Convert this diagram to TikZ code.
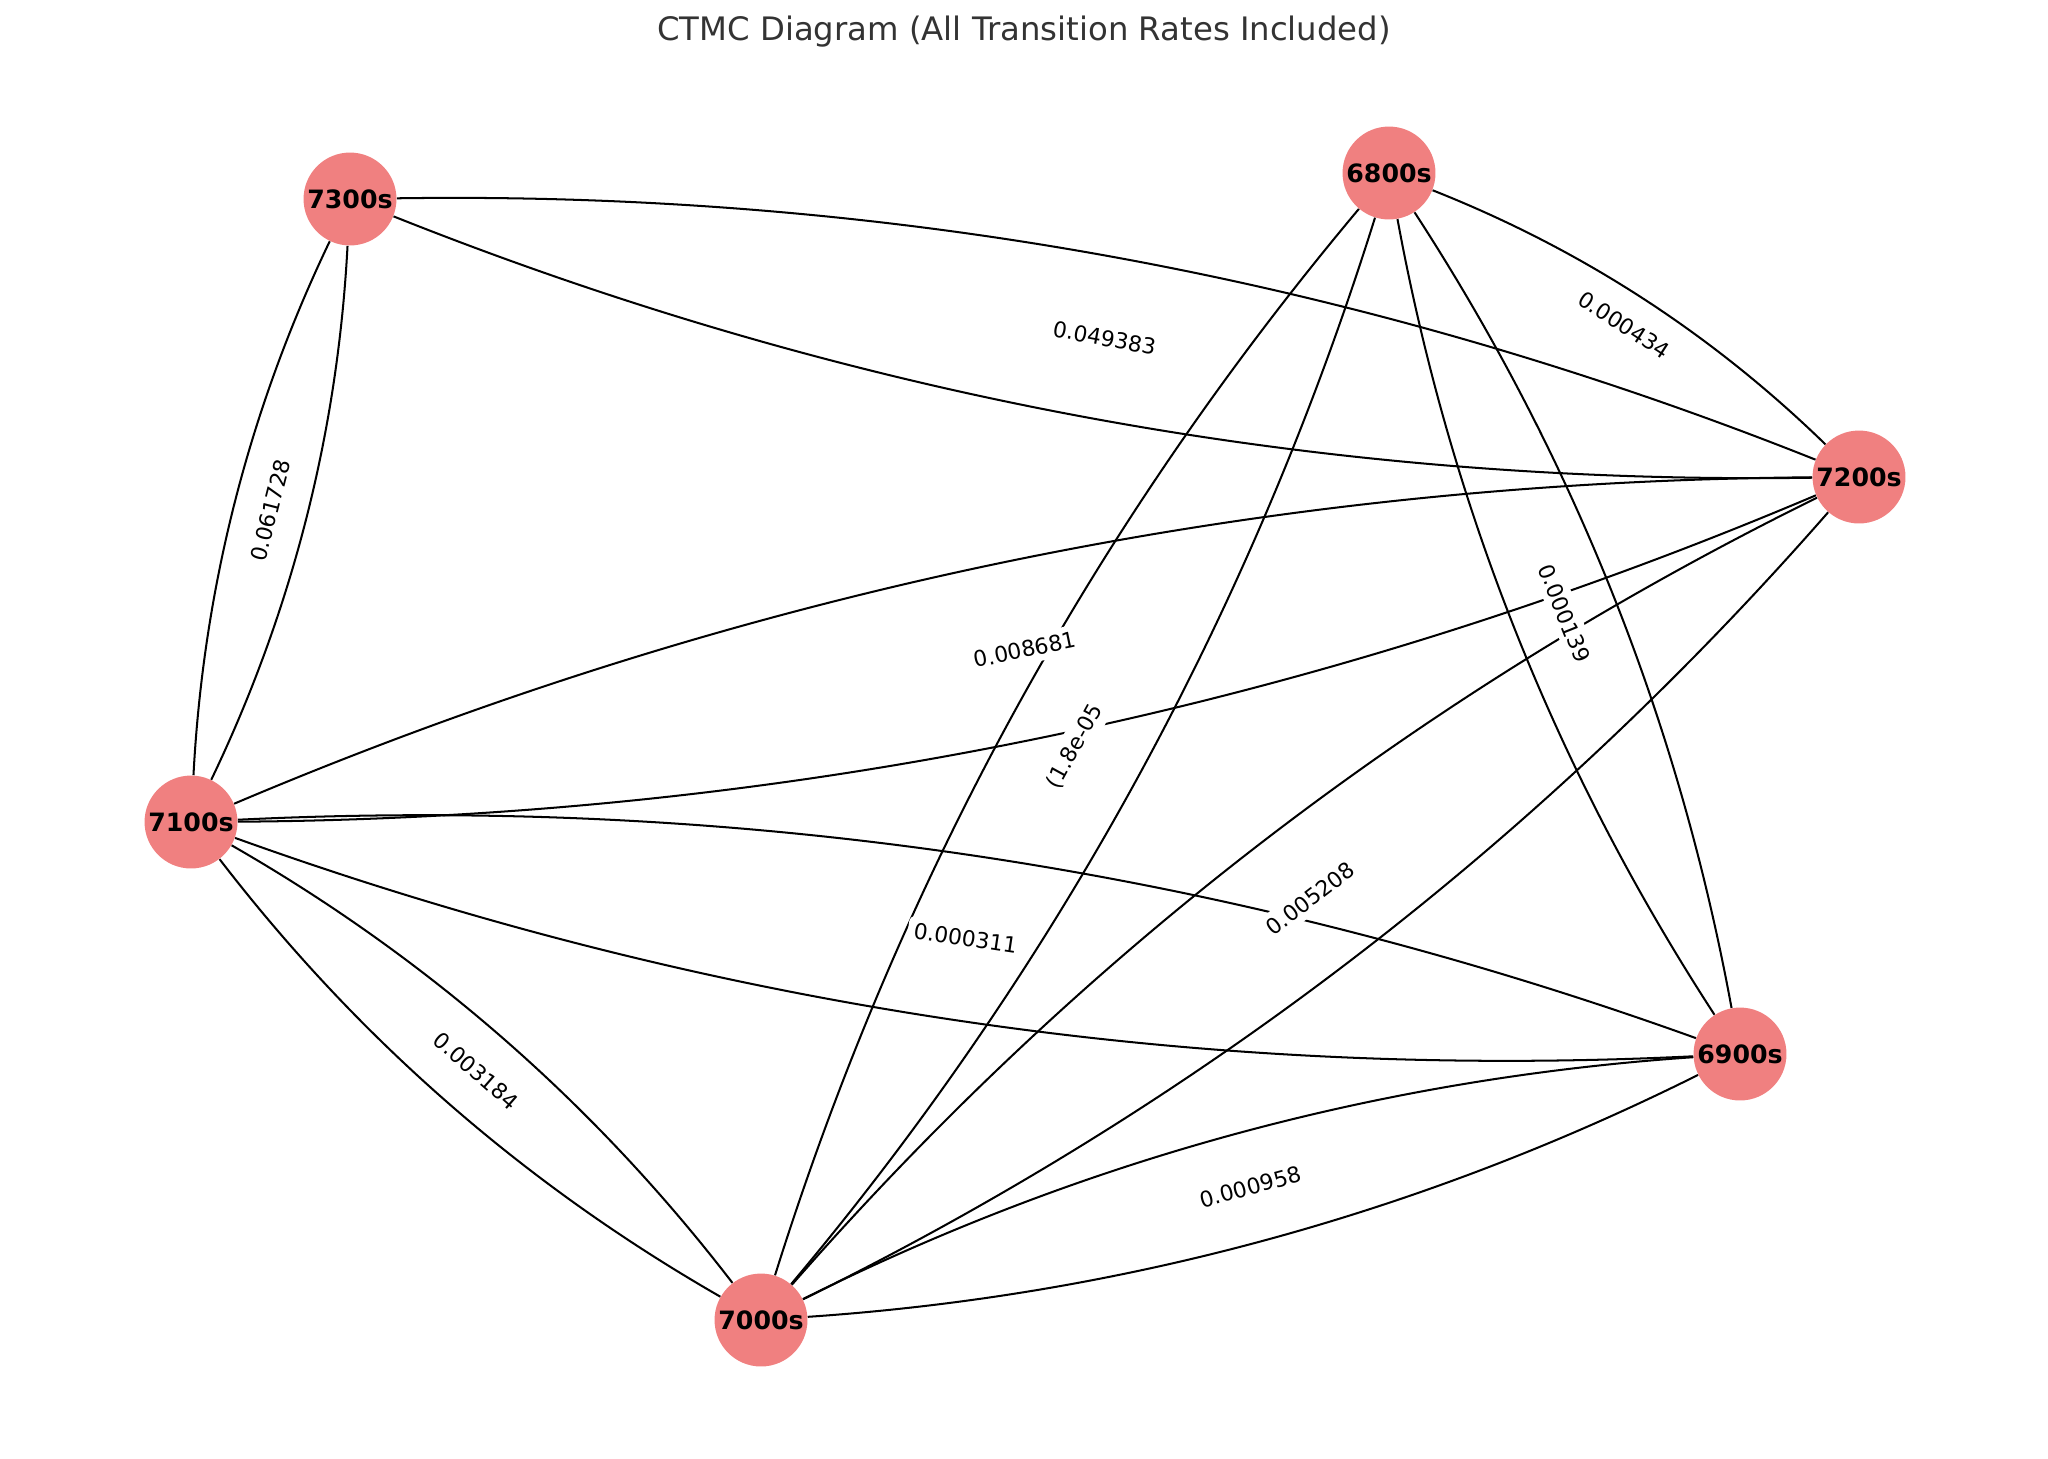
\documentclass[tikz,border=0pt]{standalone}
\usepackage{fontspec}
\setmainfont{DejaVu Sans}
\usetikzlibrary{positioning, calc}
\definecolor{lightcoral}{RGB}{240,128,128}
\definecolor{titlegray}{RGB}{51,51,51}

\begin{document}
\begin{tikzpicture}[x=0.495pt, y=-0.495pt,
    state/.style={circle, fill=lightcoral, minimum size=46pt, inner sep=0pt,
        font=\fontsize{12.5}{14}\selectfont\bfseries},
    trans/.style={draw=black, line width=1pt, looseness=0.87},
    rate/.style={fill=white, rounded corners=3pt, inner sep=3pt, sloped,
        font=\fontsize{10.8}{12}\selectfont}]
\useasboundingbox (0,0) rectangle (2048,1458);

% Title
\node[font=\fontsize{16}{19}\selectfont, text=titlegray, anchor=base] (title) at (1024,40)
    {CTMC Diagram (All Transition Rates Included)};

% States
\node[state] (s7300) at (350,199) {7300s};
\node[state] (s6800) at (1389,173) {6800s};
\node[state] (s7200) at (1859,477) {7200s};
\node[state] (s7100) at (191,822) {7100s};
\node[state] (s6900) at (1740,1054) {6900s};
\node[state] (s7000) at (761,1320) {7000s};

% Transitions both ways
\foreach \a/\b in {s7300/s7200, s7300/s7100, s6800/s7000, s6800/s6900,
                   s7200/s7100, s7200/s7000, s7100/s6900, s7100/s7000, s6900/s7000} {
    \draw[trans] (\a) to[bend left=11.3] (\b);
    \draw[trans] (\a) to[bend right=11.3] (\b);
}
% Only one way
\draw[trans] (s7200) to[bend right=11.3] (s6800);

% Rates
\foreach \a/\b/\r in {s7300/s7200/0.049383, s6800/s7200/0.000434, s7300/s7100/0.061728,
                      s7100/s7200/0.008681, s6800/s6900/0.000139, s7000/s7200/0.005208,
                      s7100/s6900/0.000311, s7100/s7000/0.003184, s7000/s6900/0.000958} {
    \path (\a) -- node[rate] {\r} (\b);
}
\path (s7000) -- node[rate] {(1.8e-05} (s6800);
\end{tikzpicture}
\end{document}
